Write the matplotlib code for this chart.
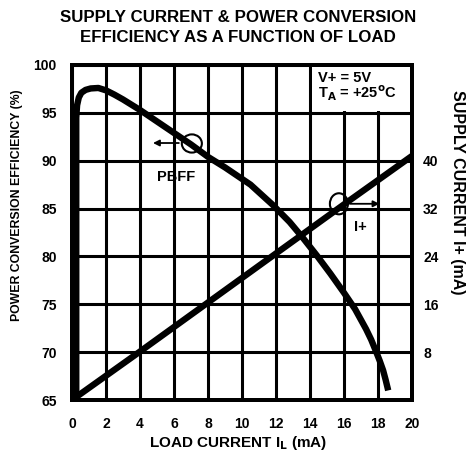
import matplotlib
matplotlib.use("Agg")
import matplotlib.pyplot as plt
from matplotlib.patches import Rectangle, Ellipse

plt.rcParams['font.family'] = ['Liberation Sans', 'DejaVu Sans']
plt.rcParams['font.weight'] = 'bold'
plt.rcParams['mathtext.default'] = 'bf'

# Data
eff_load = [0.25, 0.25, 0.3, 0.4, 0.55, 0.8, 1.1, 1.55, 2.0, 2.5, 3.0, 4, 5, 6, 7, 8, 9, 10,
            10.5, 11.8, 12.8, 13.6, 14.4, 15.2, 16.0, 16.65, 17.3, 17.6, 17.9, 18.1, 18.3, 18.45, 18.6]
eff_vals = [65.0, 94.5, 95.8, 96.6, 97.1, 97.4, 97.55, 97.6, 97.35, 96.9, 96.4, 95.3, 94.1, 92.9, 91.7, 90.4, 89.3, 88.1,
            87.5, 85.4, 83.6, 81.9, 80.1, 78.2, 76.2, 74.5, 72.4, 71.3, 70.0, 69.1, 68.1, 67.1, 66.0]

supply_load = [0, 4, 8, 12, 16, 20]
supply_ma = [0.0, 8.1, 16.3, 24.5, 32.7, 40.8]

x_ticks = [0, 2, 4, 6, 8, 10, 12, 14, 16, 18, 20]
y_ticks = [65, 70, 75, 80, 85, 90, 95, 100]
y2_ticks = [8, 16, 24, 32, 40]

W, H = 467, 454
fig = plt.figure(figsize=(W / 100, H / 100), dpi=100)
ax = fig.add_axes([72 / W, 54 / H, 340 / W, 335 / H])
ax2 = ax.twinx()

ax.set_xlim(0, 20)
ax.set_ylim(65, 100)
ax2.set_ylim(0, 56)

ax.set_xticks(x_ticks)
ax.set_yticks(y_ticks)
ax2.set_yticks(y2_ticks)
ax.tick_params(axis='x', length=0, labelsize=10, pad=12)
ax.tick_params(axis='y', length=0, labelsize=10, pad=11)
ax2.tick_params(length=0, labelsize=10, pad=8)
for lab in ax.get_xticklabels() + ax.get_yticklabels() + ax2.get_yticklabels():
    lab.set_fontweight('bold')

ax.grid(True, color='black', lw=2.2)
ax.set_axisbelow(True)
for sp in list(ax.spines.values()) + list(ax2.spines.values()):
    sp.set_linewidth(2.8)

# white box covering grid in top-right cell
ax.add_patch(Rectangle((14.1, 95.15), 5.85, 4.8, facecolor='white', edgecolor='none', zorder=1.5))

ax.plot(eff_load, eff_vals, color='black', lw=4.6, solid_joinstyle='round', solid_capstyle='butt', zorder=3)
ax2.plot(supply_load, supply_ma, color='black', lw=4.6, solid_capstyle='butt', zorder=3)

# annotations
ax.add_patch(Ellipse((7.05, 91.8), 1.18, 1.9, facecolor='none', edgecolor='black', lw=1.5, zorder=4))
ax.annotate('', xy=(4.6, 91.85), xytext=(6.45, 91.85),
            arrowprops=dict(arrowstyle='-|>', color='black', lw=1.3, mutation_scale=9), zorder=4)
ax.text(6.1, 88.3, 'PBFF', ha='center', va='center', fontsize=10.5, fontweight='bold', zorder=4)

ax.add_patch(Ellipse((15.7, 85.5), 1.06, 2.2, facecolor='none', edgecolor='black', lw=1.5, zorder=4))
ax.annotate('', xy=(18.25, 85.5), xytext=(16.2, 85.5),
            arrowprops=dict(arrowstyle='-|>', color='black', lw=1.3, mutation_scale=9), zorder=4)
ax.text(16.95, 83.1, 'I+', ha='center', va='center', fontsize=10.5, fontweight='bold', zorder=4)

ax.text(14.5, 98.6, 'V+ = 5V', ha='left', va='center', fontsize=10.5, fontweight='bold', zorder=4)
ax.text(14.5, 97.0, r'T$_\mathbf{A}$ = +25$^\mathbf{o}$C', ha='left', va='center', fontsize=10.5,
        fontweight='bold', zorder=4)

fig.text(238 / W, 1 - 443 / H, r'LOAD CURRENT I$_\mathbf{L}$ (mA)', ha='center', va='center',
         fontsize=11, fontweight='bold')
fig.text(17.5 / W, 1 - 205 / H, 'POWER CONVERSION EFFICIENCY (%)', ha='center', va='center',
         rotation=90, fontsize=8.8, fontweight='bold')
fig.text(457 / W, 1 - 192 / H, 'SUPPLY CURRENT I+ (mA)', ha='center', va='center',
         rotation=-90, fontsize=11.5, fontweight='bold')

fig.text(238 / W, 1 - 17 / H, 'SUPPLY CURRENT & POWER CONVERSION', ha='center', va='center',
         fontsize=12.2, fontweight='bold')
fig.text(238 / W, 1 - 38 / H, 'EFFICIENCY AS A FUNCTION OF LOAD', ha='center', va='center',
         fontsize=12.2, fontweight='bold')

fig.savefig('out.png', dpi=100, facecolor='white')
